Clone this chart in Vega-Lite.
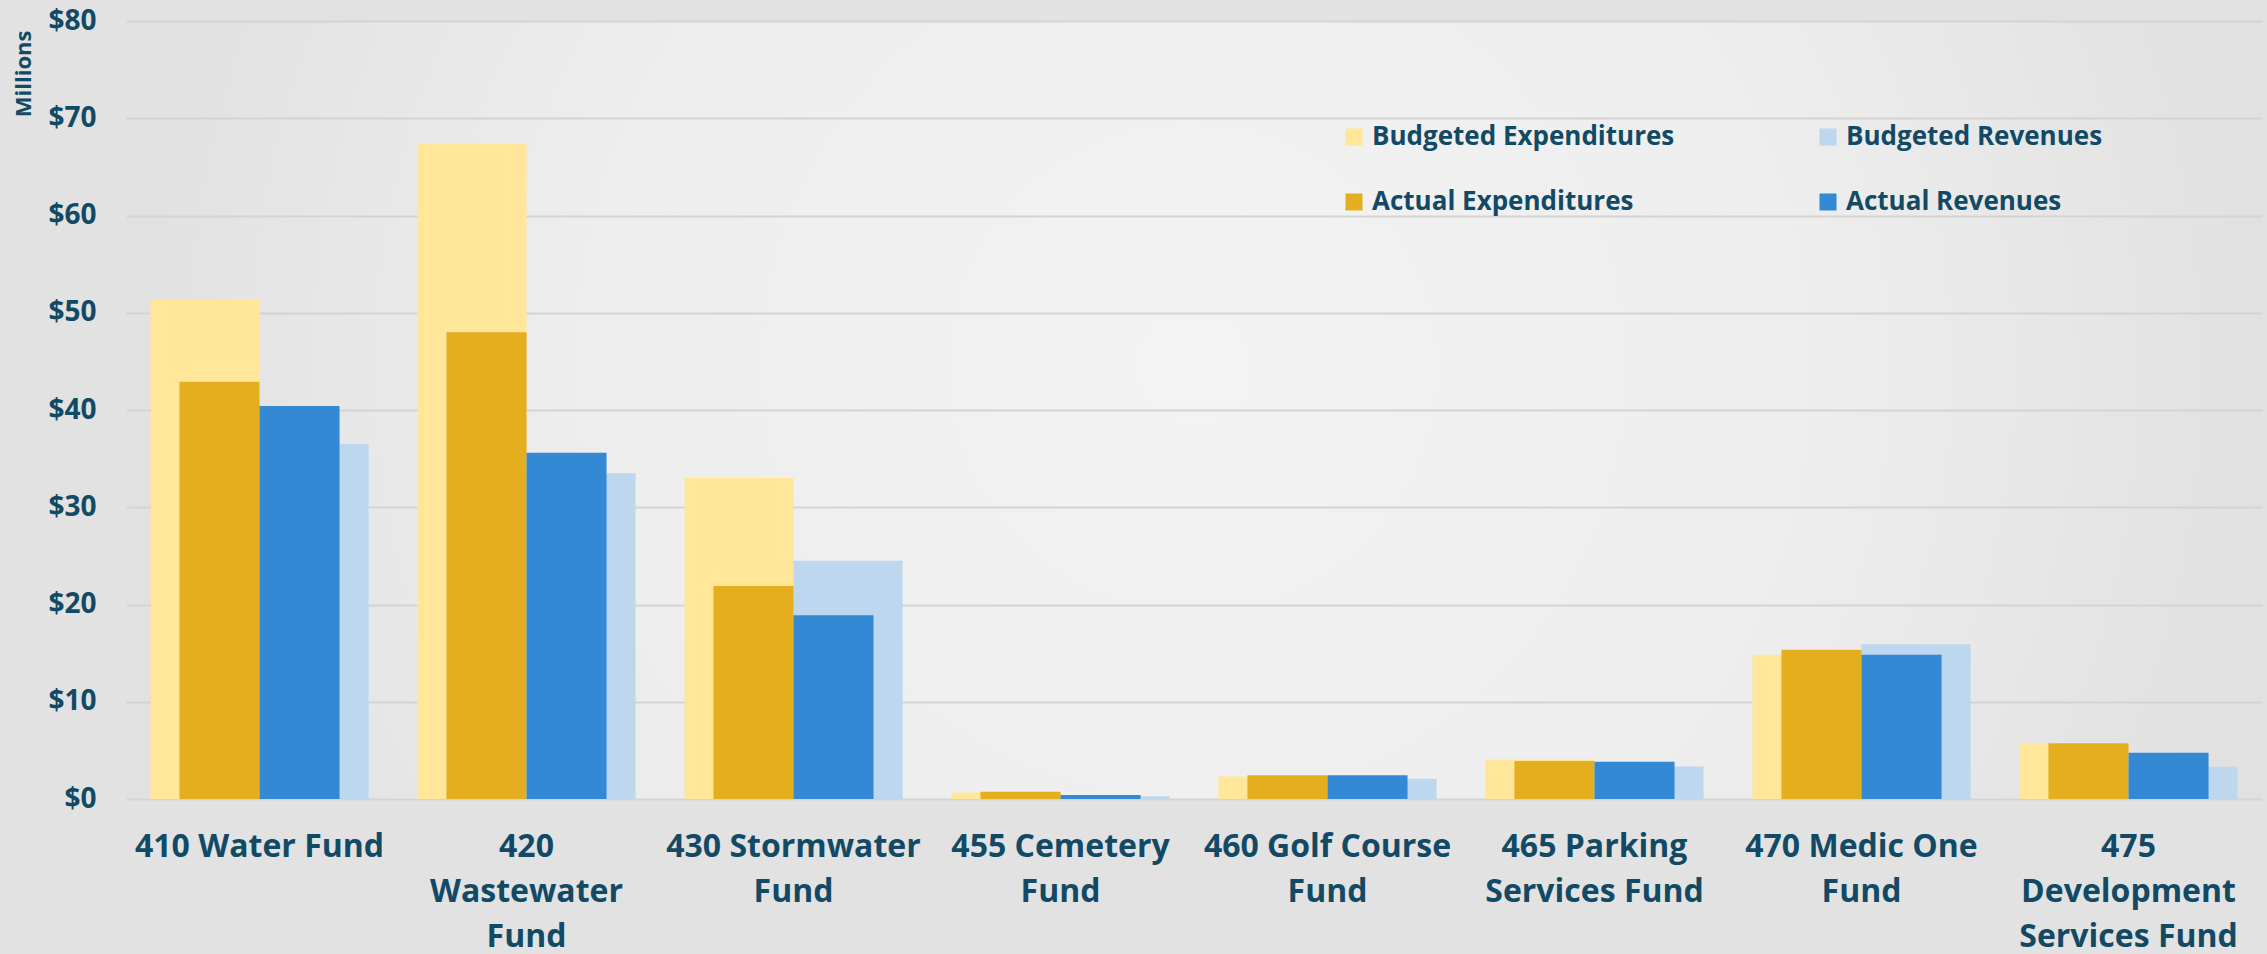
{
  "$schema": "https://vega.github.io/schema/vega-lite/v6.json",
  "autosize": {"type": "none"},
  "width": 2136,
  "height": 778,
  "padding": {"left": 126, "top": 21, "right": 5, "bottom": 155},
  "background": "#E2E2E2",
  "view": {
    "stroke": null,
    "fill": {
      "gradient": "radial",
      "x1": 0.5, "y1": 0.48, "r1": 0,
      "x2": 0.5, "y2": 0.48, "r2": 0.5,
      "stops": [
        {"offset": 0, "color": "#F3F3F3"},
        {"offset": 0.6, "color": "#EDEDED"},
        {"offset": 1, "color": "#E1E1E1"}
      ]
    }
  },
  "config": {
    "font": "Open Sans",
    "axis": {"labelFont": "Open Sans", "titleFont": "Open Sans"},
    "legend": {"labelFont": "Open Sans"}
  },
  "data": {
    "values": [
      {"fund": "410 Water Fund", "series": "Budgeted Expenditures", "kind": "Budgeted", "type": "Expenditures", "value": 51.4},
      {"fund": "410 Water Fund", "series": "Budgeted Revenues", "kind": "Budgeted", "type": "Revenues", "value": 36.5},
      {"fund": "410 Water Fund", "series": "Actual Expenditures", "kind": "Actual", "type": "Expenditures", "value": 42.9},
      {"fund": "410 Water Fund", "series": "Actual Revenues", "kind": "Actual", "type": "Revenues", "value": 40.4},
      {"fund": "420 Wastewater Fund", "series": "Budgeted Expenditures", "kind": "Budgeted", "type": "Expenditures", "value": 67.4},
      {"fund": "420 Wastewater Fund", "series": "Budgeted Revenues", "kind": "Budgeted", "type": "Revenues", "value": 33.5},
      {"fund": "420 Wastewater Fund", "series": "Actual Expenditures", "kind": "Actual", "type": "Expenditures", "value": 48.0},
      {"fund": "420 Wastewater Fund", "series": "Actual Revenues", "kind": "Actual", "type": "Revenues", "value": 35.6},
      {"fund": "430 Stormwater Fund", "series": "Budgeted Expenditures", "kind": "Budgeted", "type": "Expenditures", "value": 33.0},
      {"fund": "430 Stormwater Fund", "series": "Budgeted Revenues", "kind": "Budgeted", "type": "Revenues", "value": 24.5},
      {"fund": "430 Stormwater Fund", "series": "Actual Expenditures", "kind": "Actual", "type": "Expenditures", "value": 21.9},
      {"fund": "430 Stormwater Fund", "series": "Actual Revenues", "kind": "Actual", "type": "Revenues", "value": 18.9},
      {"fund": "455 Cemetery Fund", "series": "Budgeted Expenditures", "kind": "Budgeted", "type": "Expenditures", "value": 0.68},
      {"fund": "455 Cemetery Fund", "series": "Budgeted Revenues", "kind": "Budgeted", "type": "Revenues", "value": 0.27},
      {"fund": "455 Cemetery Fund", "series": "Actual Expenditures", "kind": "Actual", "type": "Expenditures", "value": 0.75},
      {"fund": "455 Cemetery Fund", "series": "Actual Revenues", "kind": "Actual", "type": "Revenues", "value": 0.41},
      {"fund": "460 Golf Course Fund", "series": "Budgeted Expenditures", "kind": "Budgeted", "type": "Expenditures", "value": 2.32},
      {"fund": "460 Golf Course Fund", "series": "Budgeted Revenues", "kind": "Budgeted", "type": "Revenues", "value": 2.09},
      {"fund": "460 Golf Course Fund", "series": "Actual Expenditures", "kind": "Actual", "type": "Expenditures", "value": 2.43},
      {"fund": "460 Golf Course Fund", "series": "Actual Revenues", "kind": "Actual", "type": "Revenues", "value": 2.43},
      {"fund": "465 Parking Services Fund", "series": "Budgeted Expenditures", "kind": "Budgeted", "type": "Expenditures", "value": 4.07},
      {"fund": "465 Parking Services Fund", "series": "Budgeted Revenues", "kind": "Budgeted", "type": "Revenues", "value": 3.35},
      {"fund": "465 Parking Services Fund", "series": "Actual Expenditures", "kind": "Actual", "type": "Expenditures", "value": 3.9},
      {"fund": "465 Parking Services Fund", "series": "Actual Revenues", "kind": "Actual", "type": "Revenues", "value": 3.83},
      {"fund": "470 Medic One Fund", "series": "Budgeted Expenditures", "kind": "Budgeted", "type": "Expenditures", "value": 14.84},
      {"fund": "470 Medic One Fund", "series": "Budgeted Revenues", "kind": "Budgeted", "type": "Revenues", "value": 15.9},
      {"fund": "470 Medic One Fund", "series": "Actual Expenditures", "kind": "Actual", "type": "Expenditures", "value": 15.35},
      {"fund": "470 Medic One Fund", "series": "Actual Revenues", "kind": "Actual", "type": "Revenues", "value": 14.84},
      {"fund": "475 Development Services Fund", "series": "Budgeted Expenditures", "kind": "Budgeted", "type": "Expenditures", "value": 5.76},
      {"fund": "475 Development Services Fund", "series": "Budgeted Revenues", "kind": "Budgeted", "type": "Revenues", "value": 3.32},
      {"fund": "475 Development Services Fund", "series": "Actual Expenditures", "kind": "Actual", "type": "Expenditures", "value": 5.72},
      {"fund": "475 Development Services Fund", "series": "Actual Revenues", "kind": "Actual", "type": "Revenues", "value": 4.76}
    ]
  },
  "encoding": {
    "x": {
      "field": "fund",
      "type": "nominal",
      "sort": null,
      "scale": {"paddingInner": 0.183, "paddingOuter": 0.0915},
      "axis": {
        "title": null,
        "domain": false,
        "ticks": false,
        "labelAngle": 0,
        "labelFontSize": 32,
        "labelFontWeight": "bold",
        "labelColor": "#124A66",
        "labelPadding": 32,
        "labelLineHeight": 45,
        "labelLimit": 0,
        "labelOverlap": false,
        "labelBaseline": "top",
        "labelExpr": "datum.value == '420 Wastewater Fund' ? ['420', 'Wastewater', 'Fund'] : datum.value == '430 Stormwater Fund' ? ['430 Stormwater', 'Fund'] : datum.value == '455 Cemetery Fund' ? ['455 Cemetery', 'Fund'] : datum.value == '460 Golf Course Fund' ? ['460 Golf Course', 'Fund'] : datum.value == '465 Parking Services Fund' ? ['465 Parking', 'Services Fund'] : datum.value == '470 Medic One Fund' ? ['470 Medic One', 'Fund'] : datum.value == '475 Development Services Fund' ? ['475', 'Development', 'Services Fund'] : datum.value"
      }
    },
    "y": {
      "field": "value",
      "type": "quantitative",
      "stack": null,
      "scale": {"domain": [0, 80], "nice": false},
      "axis": {
        "title": "Millions",
        "values": [0, 10, 20, 30, 40, 50, 60, 70, 80],
        "format": "$.0f",
        "domain": false,
        "ticks": false,
        "grid": true,
        "gridColor": "#D4D4D4",
        "gridWidth": 2,
        "labelFontSize": 28,
        "labelFontWeight": "bold",
        "labelColor": "#124A66",
        "labelPadding": 30,
        "titleFontSize": 22,
        "titleFontWeight": "bold",
        "titleColor": "#124A66",
        "titleAngle": 270,
        "titleAlign": "right",
        "titleBaseline": "middle",
        "titleX": -103,
        "titleY": 9
      }
    },
    "color": {
      "field": "series",
      "type": "nominal",
      "scale": {
        "domain": ["Budgeted Expenditures", "Budgeted Revenues", "Actual Expenditures", "Actual Revenues"],
        "range": ["#FFE699", "#BDD7EE", "#E4AE1E", "#3389D4"]
      },
      "legend": {
        "title": null,
        "orient": "none",
        "legendX": 1215,
        "legendY": 103,
        "columns": 2,
        "direction": "horizontal",
        "padding": 0,
        "symbolType": "square",
        "symbolSize": 289,
        "symbolStrokeWidth": 0,
        "symbolOpacity": 1,
        "labelOffset": 5,
        "labelFontSize": 26,
        "labelFontWeight": "bold",
        "labelColor": "#124A66",
        "labelLimit": 0,
        "columnPadding": 140,
        "rowPadding": 39
      }
    }
  },
  "layer": [
    {
      "transform": [{"filter": "datum.kind == 'Budgeted'"}],
      "mark": {"type": "bar", "opacity": 1},
      "encoding": {
        "xOffset": {
          "field": "type",
          "type": "nominal",
          "scale": {"domain": ["Expenditures", "Revenues"], "paddingInner": 0, "paddingOuter": 0}
        }
      }
    },
    {
      "transform": [{"filter": "datum.kind == 'Actual'"}],
      "mark": {"type": "bar", "opacity": 1},
      "encoding": {
        "xOffset": {
          "field": "type",
          "type": "nominal",
          "scale": {"domain": ["Expenditures", "Revenues"], "paddingInner": 0, "paddingOuter": 0.3625}
        }
      }
    }
  ],
  "resolve": {"scale": {"xOffset": "independent"}}
}
